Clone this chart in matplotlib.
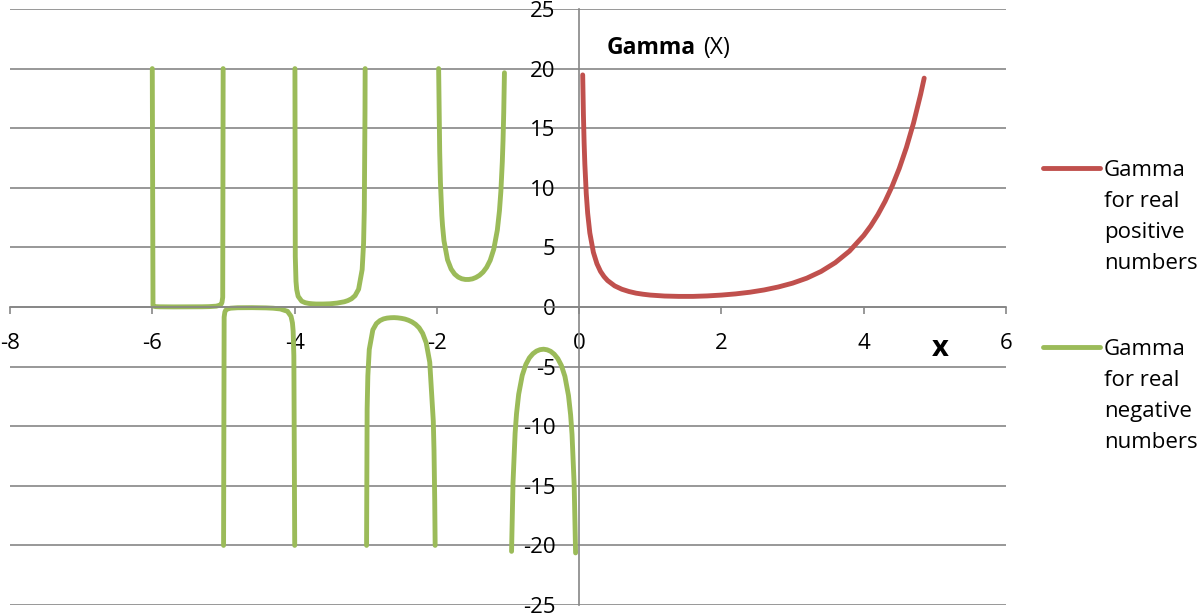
import numpy as np
import matplotlib.pyplot as plt
from matplotlib.lines import Line2D

plt.rcParams['font.family'] = ['Open Sans', 'DejaVu Sans']
plt.rcParams['axes.unicode_minus'] = False

# Gamma for real positive numbers
x_pos = [0.05, 0.06, 0.07, 0.08, 0.1, 0.12, 0.15, 0.2, 0.25, 0.3, 0.35, 0.4, 0.5, 0.6, 0.7, 0.8, 0.9,
         1.0, 1.2, 1.4, 1.5, 1.6, 1.8, 2.0, 2.2, 2.4, 2.6, 2.8, 3.0, 3.2, 3.4, 3.6, 3.8,
         4.0, 4.1, 4.2, 4.3, 4.4, 4.5, 4.6, 4.7, 4.8, 4.85]
y_pos = [19.47, 16.15, 13.77, 12.0, 9.51, 7.86, 6.22, 4.59, 3.63, 2.99, 2.55, 2.22, 1.77, 1.49, 1.30, 1.16, 1.07,
         1.0, 0.92, 0.89, 0.89, 0.89, 0.93, 1.0, 1.10, 1.24, 1.43, 1.68, 2.0, 2.42, 2.98, 3.72, 4.69,
         6.0, 6.81, 7.76, 8.86, 10.14, 11.63, 13.38, 15.43, 17.84, 19.2]

# Gamma for real negative numbers, one list per interval between poles
x_neg1 = [-6.0, -5.99, -5.98, -5.97, -5.95, -5.9, -5.8, -5.7, -5.6, -5.5, -5.4, -5.3, -5.2,
          -5.1, -5.05, -5.03, -5.02, -5.01, -5.004]
y_neg1 = [20.0, 0.14, 0.072, 0.049, 0.031, 0.017, 0.011, 0.009, 0.010, 0.011, 0.014, 0.019, 0.032,
          0.071, 0.154, 0.26, 0.40, 0.82, 20.0]

x_neg2 = [-4.998, -4.99, -4.98, -4.97, -4.95, -4.9, -4.8, -4.7, -4.6, -4.5, -4.4, -4.3, -4.2,
          -4.1, -4.05, -4.03, -4.02, -4.01, -3.998]
y_neg2 = [-20.0, -0.85, -0.43, -0.29, -0.18, -0.10, -0.062, -0.054, -0.054, -0.060, -0.074, -0.102, -0.164,
          -0.36, -0.78, -1.33, -2.02, -4.10, -20.0]

x_neg3 = [-3.995, -3.99, -3.98, -3.97, -3.95, -3.9, -3.85, -3.8, -3.75, -3.7, -3.6, -3.5, -3.4,
          -3.3, -3.25, -3.2, -3.15, -3.1, -3.05, -3.03, -3.02, -3.01, -3.008]
y_neg3 = [20.0, 4.23, 2.15, 1.46, 0.90, 0.49, 0.36, 0.30, 0.27, 0.25, 0.25, 0.27, 0.33,
          0.44, 0.54, 0.69, 0.95, 1.49, 3.14, 5.35, 8.13, 16.46, 20.0]

x_neg4 = [-2.988, -2.98, -2.97, -2.95, -2.9, -2.85, -2.8, -2.75, -2.7, -2.65, -2.6, -2.55, -2.5,
          -2.45, -2.4, -2.35, -2.3, -2.25, -2.2, -2.15, -2.1, -2.05, -2.04, -2.03, -2.024]
y_neg4 = [-20.0, -8.55, -5.78, -3.56, -1.92, -1.39, -1.14, -1.0, -0.93, -0.90, -0.89, -0.91, -0.95,
          -1.01, -1.11, -1.25, -1.45, -1.74, -2.21, -3.0, -4.63, -9.58, -12.05, -16.2, -20.0]

x_neg5 = [-1.975, -1.96, -1.95, -1.93, -1.92, -1.9, -1.85, -1.8, -1.75, -1.7, -1.65, -1.6, -1.55,
          -1.5, -1.45, -1.4, -1.35, -1.3, -1.25, -1.2, -1.15, -1.12, -1.1, -1.08, -1.07, -1.06, -1.05]
y_neg5 = [20.0, 13.0, 10.51, 7.67, 6.80, 5.56, 3.96, 3.19, 2.76, 2.51, 2.37, 2.31, 2.31,
          2.36, 2.48, 2.66, 2.93, 3.33, 3.92, 4.85, 6.45, 8.08, 9.72, 12.18, 13.94, 16.3, 19.65]

x_neg6 = [-0.95, -0.93, -0.9, -0.88, -0.85, -0.8, -0.75, -0.7, -0.65, -0.6, -0.55, -0.5, -0.45,
          -0.4, -0.35, -0.3, -0.25, -0.2, -0.15, -0.12, -0.1, -0.07, -0.05]
y_neg6 = [-20.5, -14.8, -10.57, -8.94, -7.32, -5.74, -4.83, -4.27, -3.92, -3.70, -3.58, -3.54, -3.59,
          -3.72, -3.96, -4.33, -4.90, -5.82, -7.42, -9.04, -10.69, -14.9, -20.63]

x_ticks = [-8, -6, -4, -2, 0, 2, 4, 6]
y_ticks = [-25, -20, -15, -10, -5, 0, 5, 10, 15, 20, 25]

red = '#C0504D'
green = '#9BBB59'
grey = '#868686'

# green series drawn as one line with gaps at the poles
neg_x, neg_y = [], []
for xs, ys in [(x_neg1, y_neg1), (x_neg2, y_neg2), (x_neg3, y_neg3),
               (x_neg4, y_neg4), (x_neg5, y_neg5), (x_neg6, y_neg6)]:
    neg_x += xs + [np.nan]
    neg_y += ys + [np.nan]

fig = plt.figure(figsize=(12, 6.14), dpi=100)
ax = fig.add_axes([10 / 1200, 9 / 614, 996 / 1200, 596 / 614])

ax.plot(x_pos, y_pos, color=red, lw=3.5, solid_joinstyle='round', solid_capstyle='round')
ax.plot(neg_x, neg_y, color=green, lw=3.5, solid_joinstyle='round', solid_capstyle='round')

ax.set_xlim(-8, 6)
ax.set_ylim(-25, 25)
ax.set_xticks(x_ticks)
ax.set_yticks(y_ticks)
ax.grid(axis='y', color=grey, lw=1.2)
ax.set_axisbelow(True)

for s in ['top', 'right']:
    ax.spines[s].set_visible(False)
ax.spines['left'].set_position(('data', 0))
ax.spines['bottom'].set_position(('data', 0))
for s in ['left', 'bottom']:
    ax.spines[s].set_color(grey)
    ax.spines[s].set_linewidth(1.2)

ax.tick_params(axis='x', direction='out', length=5, width=1.2, color=grey,
               pad=14, labelsize=16)
ax.tick_params(axis='y', length=0, pad=17, labelsize=16)
ax.patch.set_alpha(0)

ax.text(5.07, -3.45, 'x', fontsize=21, fontweight='bold', ha='center', va='center')

fig.text(607 / 1200, 1 - 48 / 614, 'Gamma', fontsize=16.5, fontweight='bold', va='center')
fig.text(703 / 1200, 1 - 48 / 614, '(X)', fontsize=16.5, va='center')

# legend
for yl, col, lab in [(168, red, 'Gamma\nfor real\npositive\nnumbers'),
                     (347, green, 'Gamma\nfor real\nnegative\nnumbers')]:
    fig.add_artist(Line2D([1043 / 1200, 1100 / 1200], [1 - yl / 614, 1 - yl / 614],
                          color=col, lw=3.5, solid_capstyle='round'))
    fig.text(1104 / 1200, 1 - (yl - 8) / 614, lab, fontsize=16, va='top',
             linespacing=1.62)

fig.savefig('out.png', dpi=100)
